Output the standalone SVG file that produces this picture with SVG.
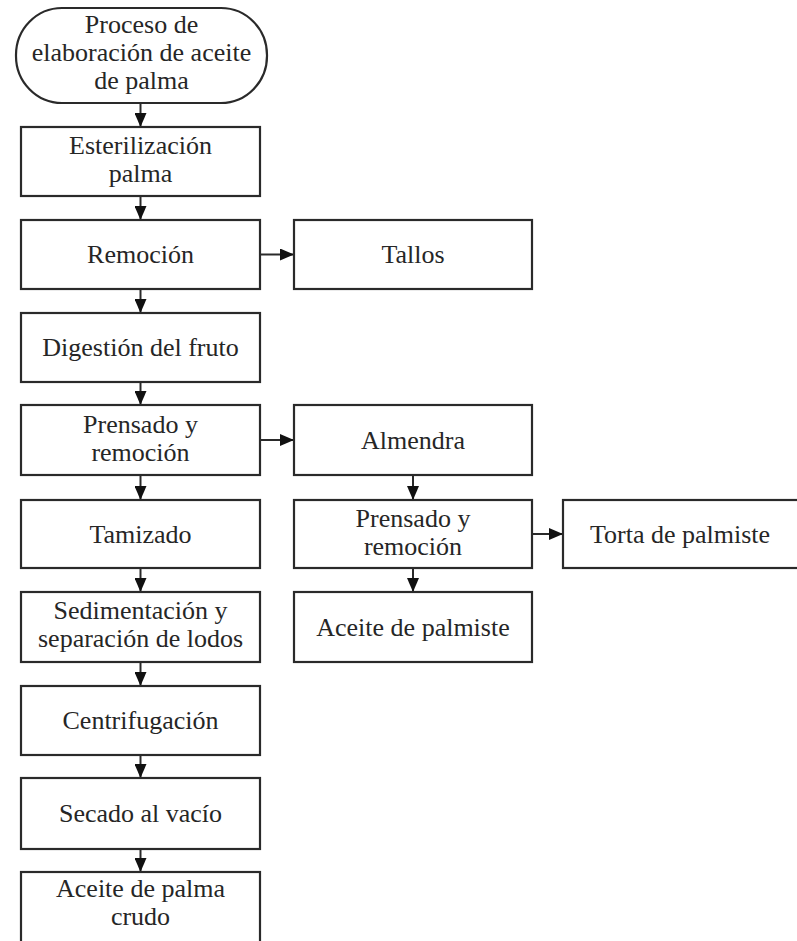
<svg xmlns="http://www.w3.org/2000/svg" width="797" height="941" viewBox="0 0 797 941">
<defs>
<style>
.b{fill:#fff;stroke:#2a2a2a;stroke-width:2.2}
.t{font-family:"Liberation Serif","Times New Roman",serif;font-size:26px;fill:#262626;text-anchor:middle}
.c{stroke:#2a2a2a;stroke-width:2;fill:none}
</style>
<marker id="a" viewBox="0 0 14 12" refX="14" refY="6" markerWidth="14" markerHeight="12" markerUnits="userSpaceOnUse" orient="auto">
<path d="M0,0 L14,6 L0,12 Z" fill="#111"/>
</marker>
</defs>
<rect width="797" height="941" fill="#fff"/>
<g id="connectors">
<line class="c" x1="140.5" y1="103" x2="140.5" y2="127" marker-end="url(#a)"/>
<line class="c" x1="140.5" y1="196" x2="140.5" y2="220" marker-end="url(#a)"/>
<line class="c" x1="140.5" y1="289" x2="140.5" y2="313" marker-end="url(#a)"/>
<line class="c" x1="140.5" y1="382" x2="140.5" y2="405" marker-end="url(#a)"/>
<line class="c" x1="140.5" y1="475" x2="140.5" y2="500" marker-end="url(#a)"/>
<line class="c" x1="140.5" y1="568" x2="140.5" y2="592" marker-end="url(#a)"/>
<line class="c" x1="140.5" y1="662" x2="140.5" y2="686" marker-end="url(#a)"/>
<line class="c" x1="140.5" y1="755" x2="140.5" y2="778" marker-end="url(#a)"/>
<line class="c" x1="140.5" y1="849" x2="140.5" y2="872" marker-end="url(#a)"/>
<line class="c" x1="260" y1="254.5" x2="294" y2="254.5" marker-end="url(#a)"/>
<line class="c" x1="260" y1="440" x2="294" y2="440" marker-end="url(#a)"/>
<line class="c" x1="413" y1="475" x2="413" y2="500" marker-end="url(#a)"/>
<line class="c" x1="413" y1="568" x2="413" y2="592" marker-end="url(#a)"/>
<line class="c" x1="532" y1="534" x2="563" y2="534" marker-end="url(#a)"/>
</g>
<g id="n_inicio">
<rect class="b" x="16" y="8" width="251" height="95" rx="46" ry="47"/>
<text class="t" x="141.5" y="33">Proceso de</text>
<text class="t" x="141.5" y="61">elaboración de aceite</text>
<text class="t" x="141.5" y="89">de palma</text>
</g>
<g id="n_esterilizacion">
<rect class="b" x="21" y="127" width="239" height="69"/>
<text class="t" x="140.5" y="154">Esterilización</text>
<text class="t" x="140.5" y="182">palma</text>
</g>
<g id="n_remocion">
<rect class="b" x="21" y="220" width="239" height="69"/>
<text class="t" x="140.5" y="263">Remoción</text>
</g>
<g id="n_tallos">
<rect class="b" x="294" y="220" width="238" height="69"/>
<text class="t" x="413" y="263">Tallos</text>
</g>
<g id="n_digestion">
<rect class="b" x="21" y="313" width="239" height="69"/>
<text class="t" x="140.5" y="356">Digestión del fruto</text>
</g>
<g id="n_prensado1">
<rect class="b" x="21" y="405" width="239" height="70"/>
<text class="t" x="140.5" y="433">Prensado y</text>
<text class="t" x="140.5" y="461">remoción</text>
</g>
<g id="n_almendra">
<rect class="b" x="294" y="405" width="238" height="70"/>
<text class="t" x="413" y="449">Almendra</text>
</g>
<g id="n_tamizado">
<rect class="b" x="21" y="500" width="239" height="68"/>
<text class="t" x="140.5" y="543">Tamizado</text>
</g>
<g id="n_prensado2">
<rect class="b" x="294" y="500" width="238" height="68"/>
<text class="t" x="413" y="527">Prensado y</text>
<text class="t" x="413" y="555">remoción</text>
</g>
<g id="n_torta">
<rect class="b" x="563" y="500" width="240" height="68"/>
<text class="t" x="680" y="543">Torta de palmiste</text>
</g>
<g id="n_sedimentacion">
<rect class="b" x="21" y="592" width="239" height="70"/>
<text class="t" x="140.5" y="619">Sedimentación y</text>
<text class="t" x="140.5" y="647">separación de lodos</text>
</g>
<g id="n_aceite_palmiste">
<rect class="b" x="294" y="592" width="238" height="70"/>
<text class="t" x="413" y="636">Aceite de palmiste</text>
</g>
<g id="n_centrifugacion">
<rect class="b" x="21" y="686" width="239" height="69"/>
<text class="t" x="140.5" y="729">Centrifugación</text>
</g>
<g id="n_secado">
<rect class="b" x="21" y="778" width="239" height="71"/>
<text class="t" x="140.5" y="822">Secado al vacío</text>
</g>
<g id="n_aceite_crudo">
<rect class="b" x="21" y="872" width="239" height="75"/>
<text class="t" x="140.5" y="897">Aceite de palma</text>
<text class="t" x="140.5" y="925">crudo</text>
</g>
</svg>
